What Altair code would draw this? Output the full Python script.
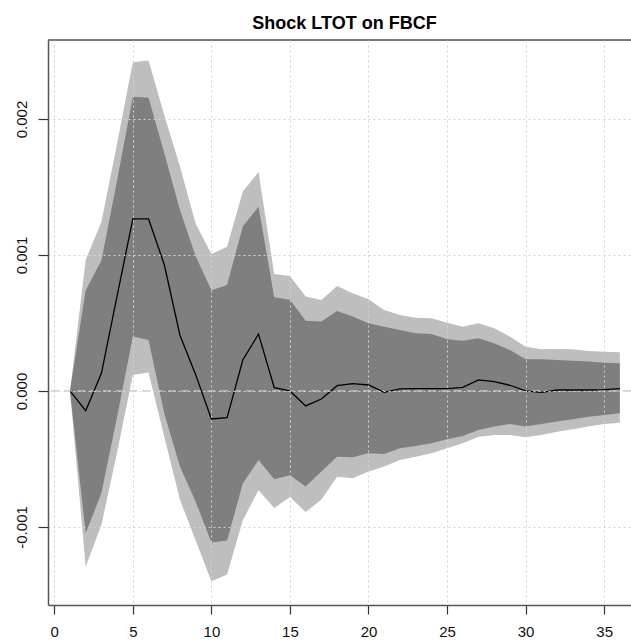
import altair as alt
import pandas as pd

t = list(range(1, 37))
irf = [0.0, -0.000145, 0.00013, 0.0007, 0.001265, 0.001265, 0.00093, 0.00041, 0.00012, -0.000206,
       -0.000196, 0.000228, 0.000419, 0.0000245, 0.0, -0.00011, -0.000059, 0.000039, 0.000054, 0.000044,
       -0.00001, 0.000015, 0.000017, 0.000017, 0.000017, 0.000027, 0.000081, 0.000069, 0.000042, 0.0,
       -0.00001, 0.000007, 0.000007, 0.000007, 0.00001, 0.000017]
hi68 = [0.0, 0.00074, 0.00096, 0.00155, 0.002164, 0.002157, 0.00175, 0.00133, 0.00099, 0.00074,
        0.00078, 0.00121, 0.001355, 0.00069, 0.00067, 0.000517, 0.00051, 0.000588, 0.000547, 0.000498,
        0.000473, 0.000449, 0.000424, 0.000419, 0.00038, 0.00037, 0.000387, 0.00035, 0.000301, 0.000233,
        0.000233, 0.000228, 0.000223, 0.000216, 0.000208, 0.000203]
lo68 = [0.0, -0.001047, -0.00075, -0.00019, 0.0004, 0.000375, -0.000164, -0.000556, -0.000814, -0.001115,
        -0.0011, -0.00068, -0.000507, -0.00065, -0.00062, -0.000703, -0.000593, -0.000483, -0.000488, -0.000458,
        -0.000463, -0.000422, -0.000404, -0.000385, -0.000355, -0.000331, -0.000287, -0.000262, -0.000243, -0.000262,
        -0.000243, -0.000225, -0.000208, -0.000189, -0.000176, -0.000164]
hi95 = [0.0, 0.000963, 0.001245, 0.00182, 0.002417, 0.00243, 0.00203, 0.00165, 0.00123, 0.001007,
        0.00106, 0.001466, 0.00161, 0.00086, 0.000846, 0.000694, 0.000669, 0.000772, 0.000718, 0.000674,
        0.000596, 0.000559, 0.000539, 0.000534, 0.000502, 0.000473, 0.000498, 0.000461, 0.0004, 0.000326,
        0.000306, 0.000309, 0.000306, 0.000294, 0.000289, 0.000284]
lo95 = [0.0, -0.00129, -0.000985, -0.00045, 0.000118, 0.000135, -0.000336, -0.0008, -0.0011, -0.0014,
        -0.00135, -0.00095, -0.00073, -0.00086, -0.00078, -0.00089, -0.0008, -0.00063, -0.000642, -0.000593,
        -0.000556, -0.000507, -0.000483, -0.000458, -0.000422, -0.000385, -0.000336, -0.000324, -0.000324, -0.000341,
        -0.000324, -0.000299, -0.000282, -0.000262, -0.000243, -0.000233]

x_ticks = [0, 5, 10, 15, 20, 25, 30, 35]
y_ticks = [-0.001, 0.0, 0.001, 0.002]
title_text = "Shock LTOT on FBCF"

df = pd.DataFrame({"t": t, "irf": irf, "lo68": lo68, "hi68": hi68, "lo95": lo95, "hi95": hi95})

W, H = 583, 565
FONT = "Liberation Sans"

xs = alt.Scale(domain=[-0.4, 36.71], nice=False, zero=False)
ys = alt.Scale(domain=[-0.001574, 0.002581], nice=False, zero=False)

x_axis = alt.Axis(values=x_ticks, title=None, grid=True, gridColor="#D3D3D3", gridDash=[2, 3],
                  gridWidth=1, domainColor="#555555", domainWidth=1.5, tickColor="#333333",
                  tickSize=9, tickWidth=1.2, labelFont=FONT, labelFontSize=15, labelColor="#111111",
                  labelPadding=10, format="d", zindex=1, labelFlush=False)
y_axis = alt.Axis(values=y_ticks, title=None, grid=True, gridColor="#D3D3D3", gridDash=[2, 3],
                  gridWidth=1, domainColor="#555555", domainWidth=1.5, tickColor="#333333",
                  tickSize=10, tickWidth=1.2, labelFont=FONT, labelFontSize=15, labelColor="#111111",
                  labelAngle=270, labelAlign="center", labelBaseline="bottom", labelPadding=9,
                  labelExpr="replace(format(datum.value, '.3f'), '\u2212', '-')",
                  zindex=1, labelFlush=False)

base = alt.Chart(df)

band95 = base.mark_area(color="#BEBEBE", opacity=1).encode(
    x=alt.X("t:Q", scale=xs, axis=x_axis),
    y=alt.Y("lo95:Q", scale=ys, axis=y_axis),
    y2="hi95:Q",
)
band68 = base.mark_area(color="#7F7F7F", opacity=1).encode(
    x=alt.X("t:Q", scale=xs),
    y=alt.Y("lo68:Q", scale=ys),
    y2="hi68:Q",
)
zero = alt.Chart(pd.DataFrame({"z": [0.0]})).mark_rule(
    color="#C4C4C4", strokeDash=[8, 5], strokeWidth=1.2
).encode(y=alt.Y("z:Q", scale=ys))
line = base.mark_line(color="black", strokeWidth=1.3).encode(
    x=alt.X("t:Q", scale=xs),
    y=alt.Y("irf:Q", scale=ys),
)
top_border = alt.Chart(pd.DataFrame({"a": [0]})).mark_rule(color="#555555", strokeWidth=1.5).encode(
    x=alt.value(0), x2=alt.value(W), y=alt.value(0)
)

chart = alt.layer(band95, band68, zero, line, top_border).properties(
    width=W, height=H,
    title=alt.TitleParams(title_text, font=FONT, fontSize=18, fontWeight="bold", color="black",
                          anchor="middle", dx=5, offset=12, dy=20, baseline="alphabetic"),
    padding={"left": 48, "top": 40, "right": 0, "bottom": 35},
    autosize=alt.AutoSizeParams(type="none"),
).configure_view(stroke=None).configure(background="white")

chart.save("out.html", embed_options={"renderer": "svg", "actions": False})
